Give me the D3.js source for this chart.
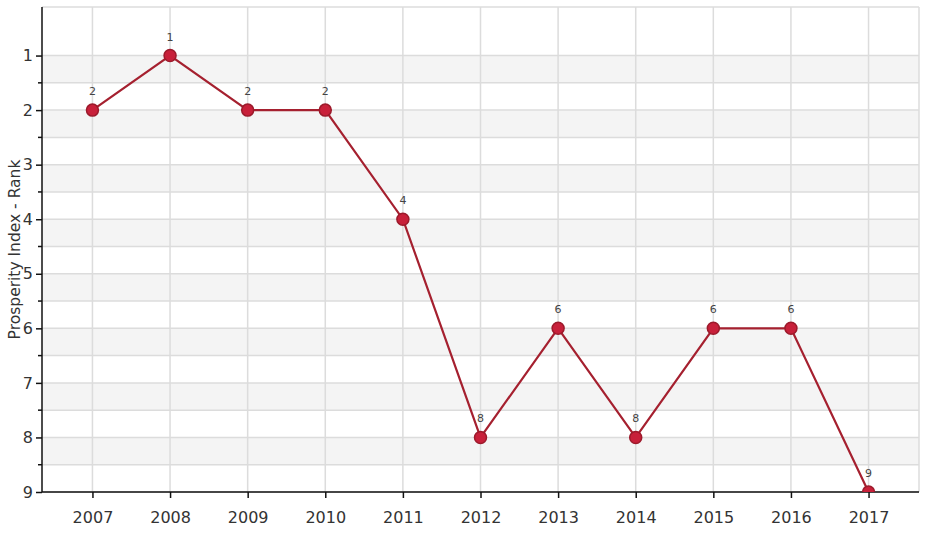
<!DOCTYPE html>
<html><head><meta charset="utf-8">
<script src="https://cdn.jsdelivr.net/npm/d3@7"></script>
<style>body{margin:0;background:#fff;font-family:"DejaVu Sans",sans-serif}</style>
</head><body><svg id="c" width="930" height="534"></svg>
<script>
const years = ["2007","2008","2009","2010","2011","2012","2013","2014","2015","2016","2017"];
const ranks = [2,1,2,2,4,8,6,8,6,6,9];
const yTicks = [1,2,3,4,5,6,7,8,9];
const yMinor = [1.5,2.5,3.5,4.5,5.5,6.5,7.5,8.5];
const FONT = "'DejaVu Sans', sans-serif";

const svg = d3.select("#c");
const L=42, R=919, T=7, B=492;
const x = d3.scalePoint().domain(years).range([L,R]).padding(0.65);
const y = d3.scaleLinear().domain([0.11,9]).range([T,B]);

svg.append("g").selectAll("rect").data(yTicks.slice(0,8)).join("rect")
  .attr("x",L).attr("width",R-L).attr("y",d=>y(d)).attr("height",d=>y(d+0.5)-y(d)).attr("fill","#f4f4f4");
svg.append("g").selectAll("line").data(yTicks.concat(yMinor).concat([0.11])).join("line")
  .attr("x1",L).attr("x2",R).attr("y1",d=>y(d)).attr("y2",d=>y(d)).attr("stroke","#dcdcdc").attr("stroke-width",1.5);
svg.append("g").selectAll("line").data(years).join("line")
  .attr("x1",d=>x(d)).attr("x2",d=>x(d)).attr("y1",T).attr("y2",B).attr("stroke","#dcdcdc").attr("stroke-width",1.5);
svg.append("line").attr("x1",R).attr("x2",R).attr("y1",T).attr("y2",B).attr("stroke","#dcdcdc").attr("stroke-width",1.5);

const yAxis = svg.append("g").attr("transform",`translate(${L},0)`)
  .call(d3.axisLeft(y).tickValues(yTicks).tickSize(6).tickPadding(3).tickFormat(d3.format("d")));
yAxis.select(".domain").attr("d",`M0,${T}V${B}`).attr("stroke","#111").attr("stroke-width",1.5);
yAxis.selectAll(".tick line").attr("stroke","#111").attr("stroke-width",1.5);
yAxis.selectAll("text").attr("font-size",16).attr("fill","#333").attr("font-family",FONT);
svg.append("g").selectAll("line").data(yMinor).join("line")
  .attr("x1",L-4).attr("x2",L).attr("y1",d=>y(d)).attr("y2",d=>y(d)).attr("stroke","#111").attr("stroke-width",1.5);

const xAxis = svg.append("g").attr("transform",`translate(0,${B})`)
  .call(d3.axisBottom(x).tickSize(6).tickPadding(14));
xAxis.select(".domain").attr("d",`M${L},0H${R}`).attr("stroke","#111").attr("stroke-width",1.5);
xAxis.selectAll(".tick line").attr("stroke","#111").attr("stroke-width",1.5);
xAxis.selectAll("text").attr("font-size",16).attr("fill","#333").attr("font-family",FONT);

svg.append("text").attr("transform",`translate(20,${(T+B)/2}) rotate(-90)`).attr("text-anchor","middle")
  .attr("font-size",15.5).attr("fill","#333").attr("font-family",FONT).text("Prosperity Index - Rank");

svg.append("clipPath").attr("id","clip").append("rect").attr("x",L).attr("y",T-20).attr("width",R-L).attr("height",B-T+20);
const g = svg.append("g").attr("clip-path","url(#clip)");
const line = d3.line().x((d,i)=>x(years[i])).y(d=>y(d));
g.append("path").datum(ranks).attr("d",line).attr("fill","none").attr("stroke","#a5202f").attr("stroke-width",2.2);
g.selectAll("circle").data(ranks).join("circle")
  .attr("cx",(d,i)=>x(years[i])).attr("cy",d=>y(d)).attr("r",6)
  .attr("fill","#c8203a").attr("stroke","#9c1a2b").attr("stroke-width",1.5);
svg.append("g").selectAll("text").data(ranks).join("text")
  .attr("x",(d,i)=>x(years[i])).attr("y",d=>y(d)-15).attr("text-anchor","middle")
  .attr("font-size",11).attr("fill","#444").attr("font-family",FONT).text(d=>d);
</script></body></html>
